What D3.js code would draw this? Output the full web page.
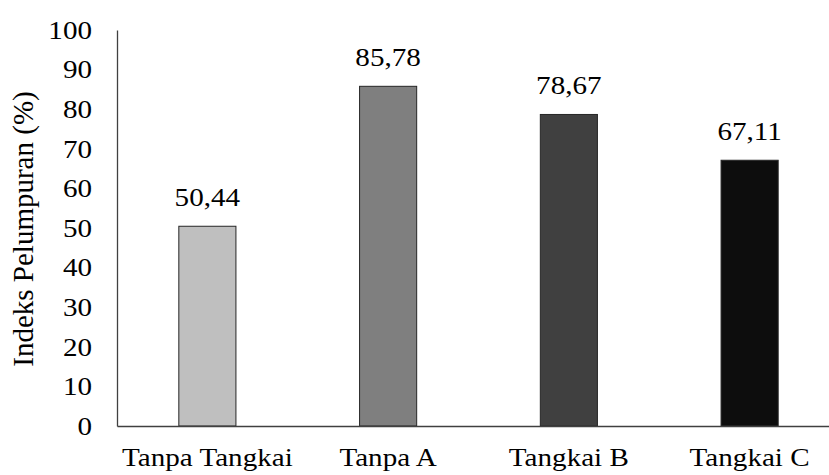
<!DOCTYPE html>
<html>
<head>
<meta charset="utf-8">
<script src="https://cdn.jsdelivr.net/npm/d3@7"></script>
</head>
<body style="margin:0;background:#fff">
<svg id="chart" width="829" height="475" style="display:block"></svg>
<script>
// Pollination index per treatment
const categories = ["Tanpa Tangkai", "Tanpa A", "Tangkai B", "Tangkai C"];
const values = [50.44, 85.78, 78.67, 67.11];
const valueLabels = ["50,44", "85,78", "78,67", "67,11"];
const barColors = ["#bfbfbf", "#7f7f7f", "#404040", "#0d0d0d"];
const yTicks = [0, 10, 20, 30, 40, 50, 60, 70, 80, 90, 100];
const yTitle = "Indeks Pelumpuran (%)";

const svg = d3.select("#chart");
const plotLeft = 117, plotRight = 840, plotTop = 30, plotBottom = 426;
const fontFamily = '"Liberation Serif"';
const fontSize = 26;
const stretchX = 1.12;

// Widen text glyphs slightly: move x/y into a transform and scale horizontally
function widen(sel) {
  sel.each(function () {
    const t = d3.select(this);
    const tx = +t.attr("x") || 0, ty = +t.attr("y") || 0;
    t.attr("x", 0).attr("y", 0)
      .attr("transform", `translate(${tx},${ty}) scale(${stretchX},1)`);
  });
}
function styleText(sel, size) {
  sel.attr("font-size", size).style("font-family", fontFamily).attr("fill", "#000");
}

const x = d3.scaleBand().domain(categories).range([plotLeft, plotRight]).paddingInner(0.684).paddingOuter(0.342);
const y = d3.scaleLinear().domain([0, 100]).range([plotBottom, plotTop]);

// Y axis: line with tick labels, no tick marks
const yAxis = svg.append("g")
  .attr("transform", `translate(${plotLeft},0)`)
  .call(d3.axisLeft(y).tickValues(yTicks).tickSize(0).tickPadding(25));
yAxis.attr("font-family", null).attr("font-size", null);
yAxis.select(".domain").attr("stroke", "#404040").attr("stroke-width", 1.3);
yAxis.selectAll("text").call(styleText, fontSize).call(widen);

// Bars
svg.append("g").selectAll("rect")
  .data(values)
  .join("rect")
  .attr("x", (d, i) => x(categories[i]))
  .attr("width", x.bandwidth())
  .attr("y", d => y(d))
  .attr("height", d => y(0) - y(d))
  .attr("fill", (d, i) => barColors[i])
  .attr("stroke", "#262626")
  .attr("stroke-width", 1);

// X axis baseline with category labels
const xAxis = svg.append("g")
  .attr("transform", `translate(0,${plotBottom})`)
  .call(d3.axisBottom(x).tickSize(0).tickPadding(22));
xAxis.attr("font-family", null).attr("font-size", null);
xAxis.select(".domain").attr("stroke", "#404040").attr("stroke-width", 1.3);
xAxis.selectAll("text").call(styleText, fontSize).call(widen);

// Value labels above bars
svg.append("g").selectAll("text")
  .data(values)
  .join("text")
  .attr("x", (d, i) => x(categories[i]) + x.bandwidth() / 2)
  .attr("y", d => y(d) - 20.5)
  .attr("text-anchor", "middle")
  .call(styleText, fontSize)
  .text((d, i) => valueLabels[i])
  .call(widen);

// Y axis title
svg.append("text")
  .attr("transform", `translate(33,${(plotTop + plotBottom) / 2 + 1}) rotate(-90)`)
  .attr("text-anchor", "middle")
  .call(styleText, 29)
  .text(yTitle);
</script>
</body>
</html>
